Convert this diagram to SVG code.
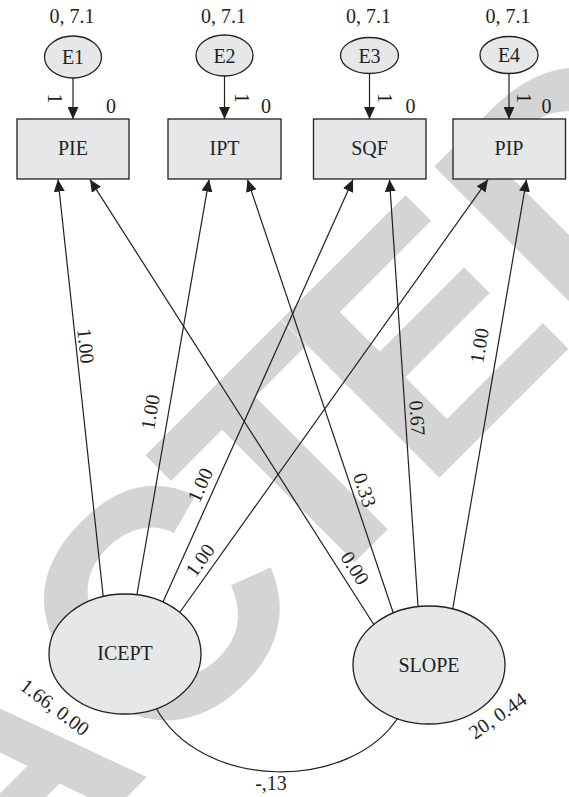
<svg xmlns="http://www.w3.org/2000/svg" width="569" height="797" viewBox="0 0 569 797">
<style>
.box{fill:#e6e7e8;stroke:#231f20;stroke-width:1.3}
.ell{fill:#e6e7e8;stroke:#231f20;stroke-width:1.3}
.con{fill:none;stroke:#231f20;stroke-width:1.2}
</style>
<defs>
<marker id="ah" viewBox="0 0 12 11" refX="12" refY="5.5" markerWidth="12" markerHeight="11" markerUnits="userSpaceOnUse" orient="auto"><path d="M0,0L12,5.5L0,11z" fill="#231f20"/></marker>
</defs>
<rect width="569" height="797" fill="#fff"/>
<g id="watermark" font-family="Liberation Sans" font-weight="bold" font-size="325" fill="#d4d4d4">
<text transform="translate(-13,937) rotate(-45)">A</text>
<text transform="translate(154,770) rotate(-45)">C</text>
<text transform="translate(301,616) rotate(-45)">T</text>
<text transform="translate(424,493) rotate(-45)">E</text>
<text transform="translate(577,340) rotate(-45)">D</text>
</g>
<g id="connectors" class="con">
<path d="M73,72 L73,119" marker-end="url(#ah)"/>
<path d="M224.5,70 L224.5,119" marker-end="url(#ah)"/>
<path d="M369.5,68 L369.5,119" marker-end="url(#ah)"/>
<path d="M509,68 L509,119" marker-end="url(#ah)"/>
<path d="M103.6,600 L58,179.6" marker-end="url(#ah)"/>
<path d="M136,600 L209,179.6" marker-end="url(#ah)"/>
<path d="M160.5,607.5 L353,179.6" marker-end="url(#ah)"/>
<path d="M176.5,617 L488,179.6" marker-end="url(#ah)"/>
<path d="M376,628 L90,179.6" marker-end="url(#ah)"/>
<path d="M395,618 L247.5,179.6" marker-end="url(#ah)"/>
<path d="M418.4,612 L389.5,179.6" marker-end="url(#ah)"/>
<path d="M452,613 L526.5,179.6" marker-end="url(#ah)"/>
<path d="M155,706 C200,792 352,792 399,716"/>
</g>
<g font-family="Liberation Serif" font-size="20" fill="#231f20" text-anchor="middle">
<g id="E1"><ellipse class="ell" cx="73" cy="57" rx="28.5" ry="21"/><text x="73" y="64">E1</text><text x="72" y="23">0, 7.1</text><text x="111" y="113">0</text><text transform="translate(55,98.5) rotate(90)" y="7">1</text></g>
<g id="E2"><ellipse class="ell" cx="224.5" cy="55.5" rx="28.5" ry="20.5"/><text x="224.5" y="62.5">E2</text><text x="223.5" y="23">0, 7.1</text><text x="266" y="113">0</text><text transform="translate(241.5,98) rotate(90)" y="7">1</text></g>
<g id="E3"><ellipse class="ell" cx="369.5" cy="55.5" rx="29" ry="18"/><text x="369.5" y="62.5">E3</text><text x="368.5" y="23">0, 7.1</text><text x="410.5" y="113">0</text><text transform="translate(385,98) rotate(90)" y="7">1</text></g>
<g id="E4"><ellipse class="ell" cx="509" cy="55" rx="29" ry="18.5"/><text x="509" y="62">E4</text><text x="508" y="23">0, 7.1</text><text x="546.5" y="113">0</text><text transform="translate(523.5,98) rotate(90)" y="7">1</text></g>
<g id="PIE"><rect class="box" x="17" y="119" width="112" height="60"/><text x="73" y="155">PIE</text></g>
<g id="IPT"><rect class="box" x="168" y="119" width="113" height="60"/><text x="224.5" y="155">IPT</text></g>
<g id="SQF"><rect class="box" x="313.5" y="119" width="112.5" height="60"/><text x="369.5" y="155">SQF</text></g>
<g id="PIP"><rect class="box" x="453" y="119" width="112.5" height="60"/><text x="509" y="155">PIP</text></g>
<g id="ICEPT"><ellipse class="ell" cx="125" cy="654" rx="76" ry="60"/><text x="125" y="660">ICEPT</text><text transform="translate(55,707) rotate(37)" y="7">1.66, 0.00</text></g>
<g id="SLOPE"><ellipse class="ell" cx="429" cy="665" rx="76" ry="59"/><text x="429" y="672">SLOPE</text><text transform="translate(497.5,715.5) rotate(-35)" y="7">20, 0.44</text></g>
<g id="edge-labels">
<text transform="translate(86,346) rotate(83.8)" y="7">1.00</text>
<text transform="translate(150,412) rotate(-80.2)" y="7">1.00</text>
<text transform="translate(200,485) rotate(-65.8)" y="7">1.00</text>
<text transform="translate(200,560) rotate(-54.6)" y="7">1.00</text>
<text transform="translate(355,568) rotate(57.5)" y="7">0.00</text>
<text transform="translate(365,490) rotate(71.4)" y="7">0.33</text>
<text transform="translate(417.5,418) rotate(86.2)" y="7">0.67</text>
<text transform="translate(479,345.5) rotate(-80.3)" y="7">1.00</text>
<text x="271" y="790">-,13</text>
</g>
</g>
</svg>
